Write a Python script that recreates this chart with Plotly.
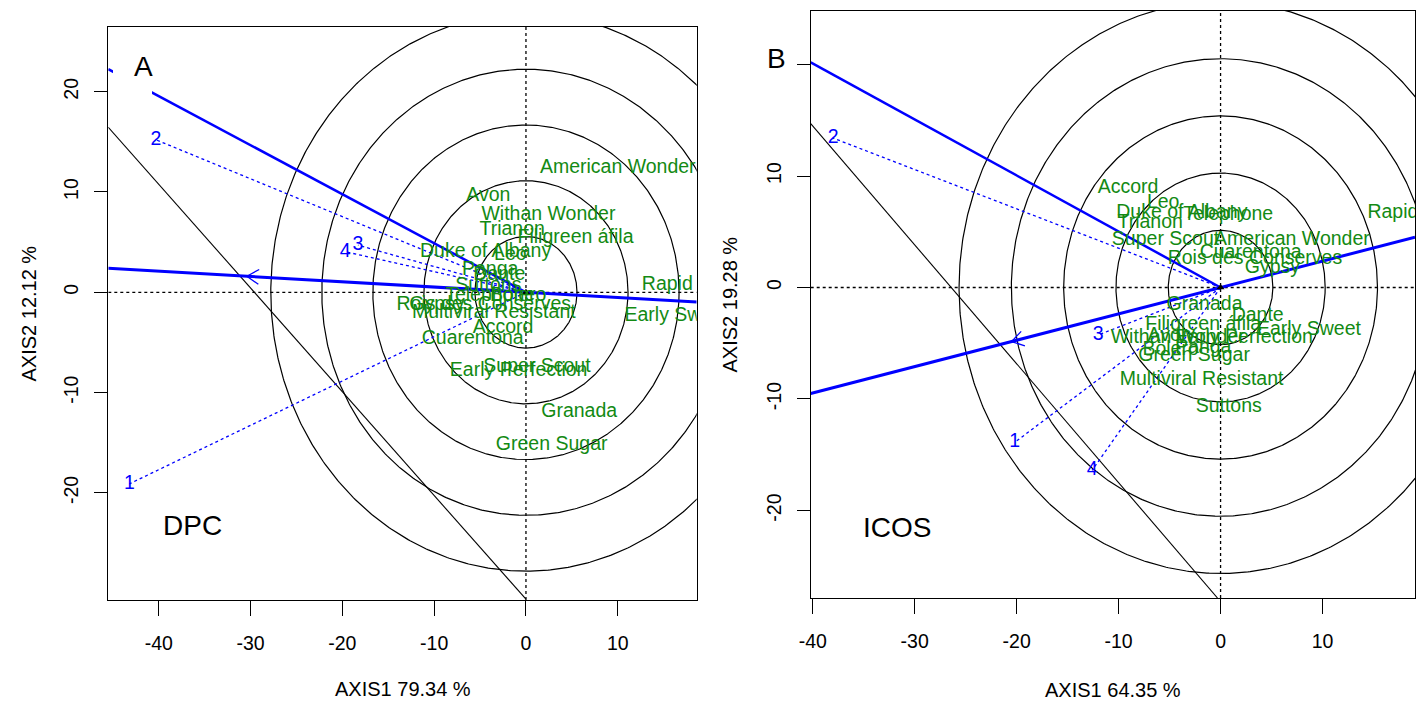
import numpy as np
import plotly.graph_objects as go

W, H = 1418, 703

# ---------------- data ----------------
GENOTYPES = ["American Wonder", "Avon", "Withan Wonder", "Trianon", "Filigreen áfila",
             "Duke of Albany", "Leo", "Panga", "Dante", "Suttons", "Rapid", "Early Sweet",
             "Telephone", "Bolero", "Rois des Conserves", "Gypsy", "Multiviral Resistant",
             "Accord", "Cuarentona", "Super Scout", "Early Perfection", "Granada", "Green Sugar"]

GEN_A_X = [10.0, -4.1, 2.45, -1.5, 5.4, -4.4, -1.7, -3.9, -2.9, -4.1, 15.4, 16.4,
           -3.9, -0.85, -4.6, -9.7, -3.5, -2.5, -5.8, 1.2, -0.8, 5.8, 2.8]
GEN_A_Y = [12.4, 9.6, 7.7, 6.2, 5.4, 4.05, 3.7, 2.2, 1.7, 0.66, 0.73, -2.4,
           -0.4, -0.4, -1.27, -1.27, -2.1, -3.6, -4.7, -7.5, -7.9, -11.9, -15.2]

GEN_B_X = [7.0, -5.0, -4.2, -6.9, -1.7, -3.8, -5.63, -1.7, 3.64, 0.8, 16.9, 8.67,
           0.75, -4.9, 3.37, 5.08, -1.86, -9.07, 2.95, -5.4, 2.3, -1.57, -2.6]
GEN_B_Y = [4.26, -4.4, -4.56, 5.75, -3.36, 6.65, 7.6, -5.45, -2.56, -10.7, 6.65, -3.8,
           6.5, -5.6, 2.53, 1.72, -8.3, 8.9, 3.07, 4.26, -4.56, -1.57, -6.2]

ENVIRONMENTS = ["1", "2", "3", "4"]
ENV_A_X = [-43.2, -40.3, -18.3, -19.7]
ENV_A_Y = [-19.1, 15.2, 4.7, 4.05]
ENV_B_X = [-20.2, -38.0, -12.0, -12.6]
ENV_B_Y = [-13.9, 13.4, -4.26, -16.4]

# average-environment point (arrow) on the average environment axis
AEA_A = [-30.4, 1.6]
AEA_B = [-20.5, -4.85]
# second solid blue vector
VEC_A = [-40.65, 19.87]
VEC_B = [-40.2, 20.2]
# thin black line (two points)
BLACK_A_X = [-45.5, 0.0]
BLACK_A_Y = [16.45, -30.6]
BLACK_B_X = [-40.2, -0.3]
BLACK_B_Y = [14.7, -27.85]

CIRCLE_RADII_A = [5.56, 11.12, 16.68, 22.24, 27.8]
CIRCLE_RADII_B = [5.13, 10.26, 15.39, 20.52, 25.65]

X_TICKS = [-40, -30, -20, -10, 0, 10]
X_TICKTEXT = ["-40", "-30", "-20", "-10", "0", "10"]
Y_TICKS_A = [-20, -10, 0, 10, 20]
Y_TICKTEXT_A = ["-20", "-10", "0", "10", "20"]
Y_TICKS_B = [-20, -10, 0, 10, 20]
Y_TICKTEXT_B = ["-20", "-10", "0", "10", ""]

TITLE_X_A = "AXIS1 79.34 %"
TITLE_Y_A = "AXIS2 12.12 %"
TITLE_X_B = "AXIS1 64.35 %"
TITLE_Y_B = "AXIS2 19.28 %"

# ---------------- layout geometry (pixels) ----------------
PANELS = {
    "A": dict(px=(108.3, 696.7), py=(27, 600), xr=[-45.5, 18.6], yr=[-30.68, 26.45],
              xa="x", ya="y"),
    "B": dict(px=(810.7, 1415.0), py=(11, 598), xr=[-40.2, 19.07], yr=[-27.85, 24.8],
              xa="x2", ya="y2"),
}

FONT = "Liberation Sans, Arial, sans-serif"
GREEN = "#138a13"
BLUE = "#0000ff"

fig = go.Figure()


def px2paper_x(p):
    return p / W


def px2paper_y(p):
    return 1 - p / H


def add_panel(key, gx, gy, ex, ey, aea, vec, bx, by, radii):
    P = PANELS[key]
    xa, ya = P["xa"], P["ya"]
    xr, yr = P["xr"], P["yr"]
    ppx = (P["px"][1] - P["px"][0]) / (xr[1] - xr[0])
    ppy = (P["py"][1] - P["py"][0]) / (yr[1] - yr[0])
    common = dict(xaxis=xa, yaxis=ya, hoverinfo="skip", showlegend=False)

    # concentric circles
    t = np.linspace(0, 2 * np.pi, 721)
    for r in radii:
        fig.add_trace(go.Scatter(x=r * np.cos(t), y=r * np.sin(t), mode="lines",
                                 line=dict(color="black", width=1.2), **common))
    # dotted axes through origin
    fig.add_trace(go.Scatter(x=[xr[0], xr[1]], y=[0, 0], mode="lines",
                             line=dict(color="black", width=1.3, dash="dot"), **common))
    fig.add_trace(go.Scatter(x=[0, 0], y=[yr[0], yr[1]], mode="lines",
                             line=dict(color="black", width=1.3, dash="dot"), **common))
    # black thin line
    fig.add_trace(go.Scatter(x=bx, y=by, mode="lines",
                             line=dict(color="black", width=1.1), **common))
    # environment vectors (dotted)
    for x_e, y_e in zip(ex, ey):
        fig.add_trace(go.Scatter(x=[0, x_e], y=[0, y_e], mode="lines",
                                 line=dict(color=BLUE, width=1.3, dash="dot"), **common))
    # average environment axis
    s = aea[1] / aea[0]
    fig.add_trace(go.Scatter(x=[xr[0], xr[1]], y=[s * xr[0], s * xr[1]], mode="lines",
                             line=dict(color=BLUE, width=3), **common))
    # second vector from origin to frame
    sv = vec[1] / vec[0]
    fig.add_trace(go.Scatter(x=[0, xr[0]], y=[0, sv * xr[0]], mode="lines",
                             line=dict(color=BLUE, width=2.5), **common))
    # open arrow head at average environment point
    Px, Py = aea[0] * ppx, aea[1] * ppy
    n = np.hypot(Px, Py)
    dx, dy = -Px / n, -Py / n
    nx, ny = -dy, dx
    L, a = 14.0, np.radians(32)
    ax1 = (Px + dx * L * np.cos(a) + nx * L * np.sin(a)) / ppx
    ay1 = (Py + dy * L * np.cos(a) + ny * L * np.sin(a)) / ppy
    ax2 = (Px + dx * L * np.cos(a) - nx * L * np.sin(a)) / ppx
    ay2 = (Py + dy * L * np.cos(a) - ny * L * np.sin(a)) / ppy
    fig.add_trace(go.Scatter(x=[ax1, aea[0], ax2], y=[ay1, aea[1], ay2], mode="lines",
                             line=dict(color=BLUE, width=1.3), **common))
    # origin marker
    fig.add_trace(go.Scatter(x=[0], y=[0], mode="markers",
                             marker=dict(symbol="triangle-up", size=7, color="black"), **common))
    # environment labels
    fig.add_trace(go.Scatter(x=ex, y=ey, mode="text", text=ENVIRONMENTS,
                             textposition="middle center",
                             textfont=dict(family=FONT, size=19.5, color=BLUE), **common))
    # genotype labels
    fig.add_trace(go.Scatter(x=gx, y=gy, mode="text", text=GENOTYPES,
                             textposition="middle center",
                             textfont=dict(family=FONT, size=19.5, color=GREEN), **common))


add_panel("A", GEN_A_X, GEN_A_Y, ENV_A_X, ENV_A_Y, AEA_A, VEC_A, BLACK_A_X, BLACK_A_Y,
          CIRCLE_RADII_A)
add_panel("B", GEN_B_X, GEN_B_Y, ENV_B_X, ENV_B_Y, AEA_B, VEC_B, BLACK_B_X, BLACK_B_Y,
          CIRCLE_RADII_B)


def xaxis_cfg(P, tickvals, ticktext):
    return dict(domain=[px2paper_x(P["px"][0]), px2paper_x(P["px"][1])], range=P["xr"],
                showline=True, mirror=True, linecolor="black", linewidth=1.3,
                ticks="outside", ticklen=15, tickwidth=1.3, tickcolor="black",
                tickvals=tickvals, ticktext=ticktext,
                showgrid=False, zeroline=False, automargin=False,
                tickfont=dict(family=FONT, size=19.5, color="black"),
                ticklabelstandoff=10, fixedrange=True)


def yaxis_cfg(P, tickvals, ticktext):
    return dict(domain=[px2paper_y(P["py"][1]), px2paper_y(P["py"][0])], range=P["yr"],
                showline=True, mirror=True, linecolor="black", linewidth=1.3,
                ticks="outside", ticklen=13, tickwidth=1.3, tickcolor="black",
                tickvals=tickvals, ticktext=ticktext, tickangle=-90,
                showgrid=False, zeroline=False, automargin=False,
                tickfont=dict(family=FONT, size=19.5, color="black"),
                ticklabelstandoff=8, fixedrange=True)


PA, PB = PANELS["A"], PANELS["B"]
fig.update_layout(
    width=W, height=H, margin=dict(l=0, r=0, t=0, b=0, pad=0, autoexpand=False),
    paper_bgcolor="white", plot_bgcolor="white", showlegend=False,
    xaxis=xaxis_cfg(PA, X_TICKS, X_TICKTEXT) | dict(anchor="y"),
    yaxis=yaxis_cfg(PA, Y_TICKS_A, Y_TICKTEXT_A) | dict(anchor="x"),
    xaxis2=xaxis_cfg(PB, X_TICKS, X_TICKTEXT) | dict(anchor="y2"),
    yaxis2=yaxis_cfg(PB, Y_TICKS_B, Y_TICKTEXT_B) | dict(anchor="x2"),
)

# white box behind the "A" label (hides the vector there, as in the original)
fig.add_shape(type="rect", xref="paper", yref="paper",
              x0=px2paper_x(113), x1=px2paper_x(152), y0=px2paper_y(100), y1=px2paper_y(45),
              fillcolor="white", line=dict(width=0), layer="above")


def ann(text, xpx, ypx, size, angle=0):
    fig.add_annotation(text=text, x=px2paper_x(xpx), y=px2paper_y(ypx), xref="paper",
                       yref="paper", showarrow=False, xanchor="center", yanchor="middle",
                       textangle=angle, font=dict(family=FONT, size=size, color="black"))


ann("A", 143, 66, 28)
ann("B", 776, 58, 28)
ann("DPC", 192, 525, 28)
ann("ICOS", 897, 527, 28)
ann(TITLE_X_A, (PA["px"][0] + PA["px"][1]) / 2, 689, 20)
ann(TITLE_X_B, (PB["px"][0] + PB["px"][1]) / 2, 690, 20)
ann(TITLE_Y_A, 28, (PA["py"][0] + PA["py"][1]) / 2, 20, -90)
ann(TITLE_Y_B, 729, (PB["py"][0] + PB["py"][1]) / 2, 20, -90)

fig.write_html("out.html", config=dict(displayModeBar=False))
